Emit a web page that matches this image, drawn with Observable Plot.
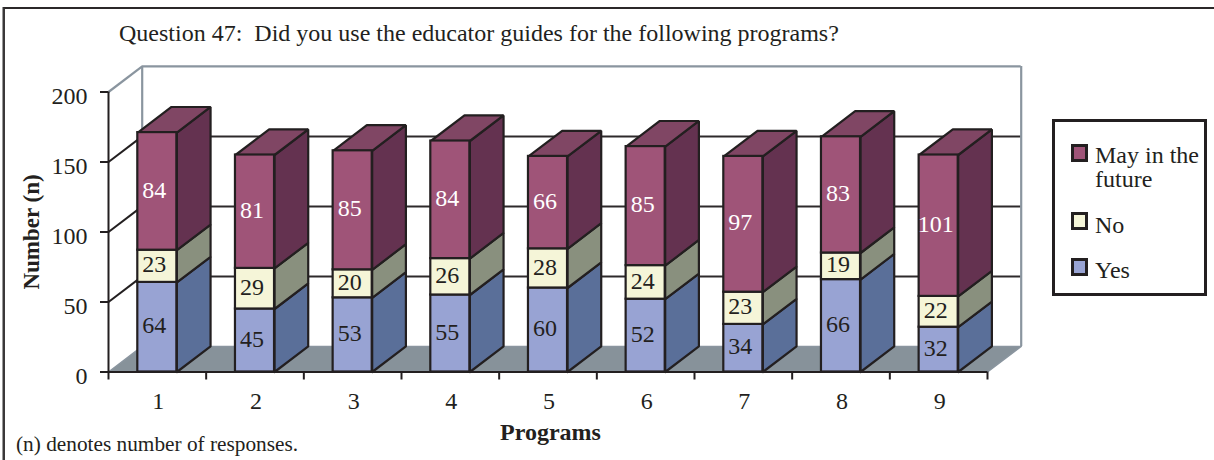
<!DOCTYPE html>
<html>
<head>
<meta charset="utf-8">
<script src="https://cdn.jsdelivr.net/npm/d3@7"></script>
<script src="https://cdn.jsdelivr.net/npm/@observablehq/plot@0.6"></script>
<style>
  html, body { margin: 0; padding: 0; background: #fff; }
  #frame { position: relative; width: 1214px; height: 460px; overflow: hidden; color: #231f20;
           font-family: "Liberation Serif", serif; }
  #frame svg { position: absolute; left: 0; top: 0; }
  #edge { position: absolute; left: 3px; top: 7px; right: -4px; bottom: -4px;
          border-top: 2px solid #2b2829; border-left: 2px solid #3a3839; box-shadow: -1px 0 0 #9a9a9a; }
  #title { position: absolute; left: 119px; top: 19px; font-size: 24px; line-height: 28px; white-space: pre; }
  #note { position: absolute; left: 16px; top: 432px; font-size: 21.3px; line-height: 24px; white-space: pre; }
  #legend { position: absolute; left: 1052px; top: 119px; width: 149px; height: 171px; border: 3px solid #231f20; background: #fff; }
  .key { position: absolute; left: 15.5px; width: 11.5px; height: 12px; border: 3px solid #231f20; }
  .lab { position: absolute; left: 40px; font-size: 24px; line-height: 24px; white-space: pre; }
</style>
</head>
<body>
<div id="frame">
  <div id="edge"></div>
  <div id="title">Question 47:  Did you use the educator guides for the following programs?</div>
  <div id="note">(n) denotes number of responses.</div>
</div>
<script>
// Survey responses per program
const programs = ["1", "2", "3", "4", "5", "6", "7", "8", "9"];
const yes = [64, 45, 53, 55, 60, 52, 34, 66, 32];
const no = [23, 29, 20, 26, 28, 24, 23, 19, 22];
const mayInFuture = [84, 81, 85, 84, 66, 85, 97, 83, 101];
const yTicks = [0, 50, 100, 150, 200];

// Stacking order, bottom to top, with front / side / top shades
const series = [
  {name: "Yes", values: yes, front: "#98a3d3", side: "#5a6f99", top: "#5a6f99", ink: "#231f20"},
  {name: "No", values: no, front: "#f5f5d8", side: "#89907e", top: "#89907e", ink: "#231f20"},
  {name: "May in the\nfuture", values: mayInFuture, front: "#9f5478", side: "#643250", top: "#804664", ink: "#ffffff"}
];

// Oblique projection of the chart's depth, in scale units
const depthX = 0.345;
const depthY = 18.3;
const barStart = 0.3;
const barEnd = 0.7;
const ceiling = 200;
const ink = "#231f20";
const wallGrey = "#8a959f";
const floorGrey = "#87929a";

const segments = [];
programs.forEach((program, i) => {
  let base = 0;
  series.forEach(s => {
    const value = s.values[i];
    segments.push({program, i, value, y1: base, y2: base + value, series: s,
      isTop: s === series[series.length - 1]});
    base += value;
  });
});

// Closed polygons for the receding faces of every stacked segment
const faces = segments.flatMap((d, k) => {
  const x1 = d.i + barStart, x2 = d.i + barEnd;
  const poly = (id, fill, pts) => [...pts, pts[0]].map(([x, y]) => ({id, fill, x, y}));
  const side = poly(`s${k}`, d.series.side, [
    [x2, d.y1], [x2 + depthX, d.y1 + depthY], [x2 + depthX, d.y2 + depthY], [x2, d.y2]
  ]);
  const top = d.isTop ? poly(`t${k}`, d.series.top, [
    [x1, d.y2], [x2, d.y2], [x2 + depthX, d.y2 + depthY], [x1 + depthX, d.y2 + depthY]
  ]) : [];
  return [...side, ...top];
});

const floor = [[0, 0], [9, 0], [9 + depthX, depthY], [depthX, depthY], [0, 0]].map(([x, y]) => ({x, y}));

const chart = Plot.plot({
  width: 1214,
  height: 460,
  marginLeft: 108,
  marginRight: 227,
  marginTop: 91.5,
  marginBottom: 88.5,
  style: {background: "transparent", fontFamily: "Liberation Serif", color: ink},
  x: {domain: [0, 9]},
  y: {domain: [0, 200]},
  color: {type: "identity"},
  marks: [
    // Floor of the chart box
    Plot.line(floor, {x: "x", y: "y", fill: floorGrey, stroke: wallGrey, strokeWidth: 1.5}),
    // Gridlines across the back wall and down the side wall
    Plot.ruleY(yTicks.filter(t => t > 0 && t < ceiling), {
      y: t => t + depthY, x1: depthX, x2: 9 + depthX, stroke: ink, strokeWidth: 2, strokeOpacity: 0.95
    }),
    Plot.link(yTicks.filter(t => t > 0 && t < ceiling), {
      x1: 0, y1: t => t, x2: depthX, y2: t => t + depthY, stroke: ink, strokeWidth: 2
    }),
    // Outline of the back wall
    Plot.ruleX([depthX, 9 + depthX], {y1: depthY, y2: ceiling + depthY, stroke: wallGrey, strokeWidth: 2.2}),
    Plot.ruleY([ceiling + depthY], {x1: depthX, x2: 9 + depthX, stroke: wallGrey, strokeWidth: 2.2}),
    Plot.link([ceiling], {x1: 0, y1: t => t, x2: depthX, y2: t => t + depthY, stroke: wallGrey, strokeWidth: 2.2}),
    // Bars: receding faces, then front faces
    Plot.line(faces, {x: "x", y: "y", z: "id", fill: "fill", stroke: ink, strokeWidth: 2.2, strokeLinejoin: "miter"}),
    Plot.rect(segments, {
      x1: d => d.i + barStart, x2: d => d.i + barEnd, y1: "y1", y2: "y2",
      fill: d => d.series.front, stroke: ink, strokeWidth: 2.2
    }),
    // Axes
    Plot.ruleX([0], {y1: 0, y2: ceiling, stroke: ink, strokeWidth: 2}),
    Plot.ruleY([0], {x1: 0, x2: 9, stroke: ink, strokeWidth: 2}),
    Plot.axisY({ticks: yTicks, tickSize: 8, tickFormat: () => "", stroke: ink, strokeWidth: 2, label: null}),
    Plot.axisX({ticks: d3.range(0, 10), tickSize: 8, tickFormat: () => "", stroke: ink, strokeWidth: 2, label: null}),
    Plot.text(yTicks, {x: 0, y: d => d, text: d => String(d), dx: -21, dy: 4, textAnchor: "end", fontSize: 24, fill: ink}),
    Plot.text(programs, {x: (d, i) => i + 0.5, y: 0, text: d => d, dx: 1, dy: 29, fontSize: 24, fill: ink}),
    // Value labels centred on each segment
    Plot.text(segments, {
      x: d => d.i + 0.5, y: d => (d.y1 + d.y2) / 2, text: d => String(d.value), dx: -3, dy: -1.5,
      fontSize: 24, fill: d => d.series.ink
    }),
    // Axis titles
    Plot.text(["Number (n)"], {x: 0, y: 100, text: d => d, dx: -77, rotate: -90, fontSize: 23, fontWeight: "bold", fill: ink}),
    Plot.text(["Programs"], {x: 4.5, y: 0, text: d => d, dy: 60, dx: 2.5, fontSize: 24, fontWeight: "bold", fill: ink})
  ]
});
document.getElementById("frame").appendChild(chart);

// Legend box listing the series from the top of the stack down
const legend = d3.select("#frame").append("div").attr("id", "legend");
const slots = [{top: 22, text: 21}, {top: 90, text: 91}, {top: 136, text: 136}];
[...series].reverse().forEach((s, i) => {
  legend.append("div").attr("class", "key").style("top", `${slots[i].top}px`).style("background", s.front);
  legend.append("div").attr("class", "lab").style("top", `${slots[i].text}px`).text(s.name);
});
</script>
</body>
</html>
